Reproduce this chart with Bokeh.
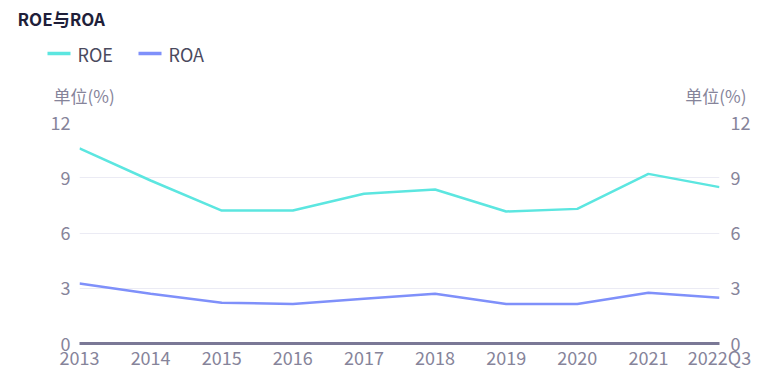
from bokeh.plotting import figure
from bokeh.layouts import column
from bokeh.models import Range1d, LinearAxis, FixedTicker
from bokeh.core.properties import value
from bokeh.embed import file_html
from bokeh.resources import INLINE

title_text = "ROE与ROA"
unit_text = "单位(%)"
categories = ["2013", "2014", "2015", "2016", "2017", "2018", "2019", "2020", "2021", "2022Q3"]
series_names = ["ROE", "ROA"]
roe = [10.59, 8.85, 7.22, 7.22, 8.13, 8.36, 7.17, 7.31, 9.21, 8.49]
roa = [3.26, 2.70, 2.21, 2.15, 2.43, 2.70, 2.15, 2.15, 2.75, 2.48]
y_ticks = [0, 3, 6, 9, 12]

FONT = "Noto Sans CJK SC"
GRAY = "#86849a"
COLORS = ["#5ce6e0", "#7f90fa"]
W = 768
HEAD_H = 110

# ---------- header: title, legend, unit captions ----------
h = figure(width=W, height=HEAD_H, output_backend="svg", toolbar_location=None,
           x_range=Range1d(0, W), y_range=Range1d(HEAD_H, 0),
           x_axis_location=None, y_axis_location=None,
           min_border=0, min_border_left=0, min_border_right=0,
           min_border_top=0, min_border_bottom=0)
h.grid.visible = False
h.outline_line_color = None
h.border_fill_color = "white"

h.text(x=[17], y=[18], text=[title_text], text_font=value(FONT), text_font_size="17px",
       text_font_style="bold", text_color="#1f1f3a", text_baseline="middle", text_align="left")

leg_x = [47, 138]
for name, color, lx in zip(series_names, COLORS, leg_x):
    h.segment(x0=[lx], y0=[53], x1=[lx + 23], y1=[53], line_color=color, line_width=3.5)
    h.text(x=[lx + 30], y=[53], text=[name], text_font=value(FONT), text_font_size="18px",
           text_color="#4a4a5e", text_baseline="middle", text_align="left")

h.text(x=[53], y=[95], text=[unit_text], text_font=value(FONT), text_font_size="17px",
       text_color=GRAY, text_baseline="middle", text_align="left")
h.text(x=[746], y=[95], text=[unit_text], text_font=value(FONT), text_font_size="17px",
       text_color=GRAY, text_baseline="middle", text_align="right")

# ---------- main chart ----------
xs = list(range(len(categories)))
p = figure(width=W, height=375 - HEAD_H, output_backend="svg", toolbar_location=None,
           x_range=Range1d(0, len(categories) - 1), y_range=Range1d(0, 12),
           min_border_left=79, min_border_right=49, min_border_top=122 - HEAD_H,
           min_border_bottom=32)
p.outline_line_color = None
p.border_fill_color = "white"

p.line(xs, roe, line_color=COLORS[0], line_width=2.5)
p.line(xs, roa, line_color=COLORS[1], line_width=2.5)


def style_axis(ax, standoff):
    ax.major_tick_line_color = None
    ax.minor_tick_line_color = None
    ax.major_tick_out = 0
    ax.major_tick_in = 0
    ax.minor_tick_out = 0
    ax.minor_tick_in = 0
    ax.major_label_text_color = GRAY
    ax.major_label_text_font = FONT
    ax.major_label_text_font_size = "18px"
    ax.major_label_standoff = standoff


xa = p.xaxis[0]
xa.ticker = FixedTicker(ticks=xs)
xa.major_label_overrides = {i: c for i, c in enumerate(categories)}
xa.axis_line_color = "#7a7896"
xa.axis_line_width = 3
style_axis(xa, 0)
p.xgrid.grid_line_color = None

ya = p.yaxis[0]
ya.ticker = FixedTicker(ticks=y_ticks)
ya.axis_line_color = None
style_axis(ya, 9)
p.ygrid.ticker = FixedTicker(ticks=y_ticks[1:])
p.ygrid.grid_line_color = "#ebebf4"
p.ygrid.grid_line_width = 1

ra = LinearAxis(ticker=FixedTicker(ticks=y_ticks))
ra.axis_line_color = None
style_axis(ra, 11)
p.add_layout(ra, "right")

layout = column(column(h), p, spacing=0)
open("out.html", "w").write(file_html(layout, INLINE))
